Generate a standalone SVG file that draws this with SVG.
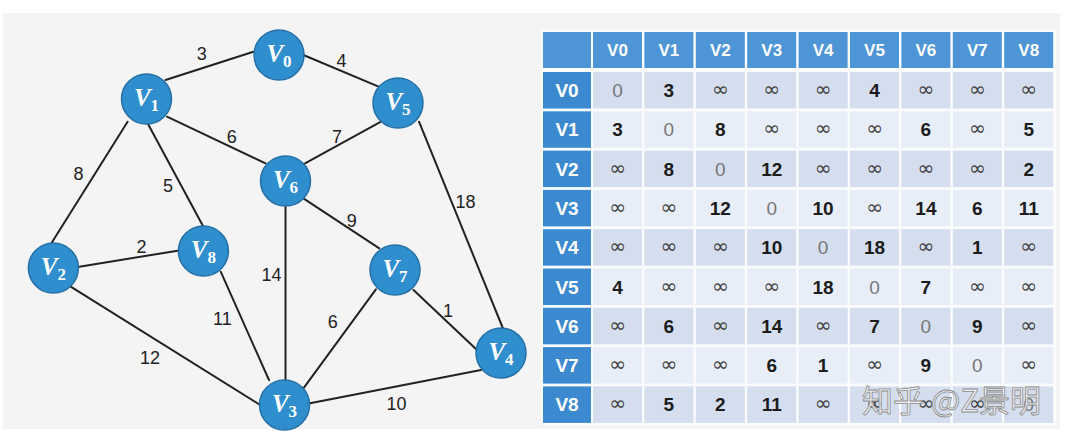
<svg xmlns="http://www.w3.org/2000/svg" width="1065" height="442" viewBox="0 0 1065 442">
<style>
.edge{stroke:#222;stroke-width:2;fill:none;stroke-linecap:round}
.el{font-family:"Liberation Sans",Arial,sans-serif;font-size:18px;fill:#222;text-anchor:middle}
.node circle{fill:#2f8ecd;stroke:#2570a6;stroke-width:1.5}
.nl{font-family:"Liberation Serif","Times New Roman",serif;font-style:italic;font-weight:bold;font-size:25px;fill:#fff;text-anchor:middle}
.nl tspan.s{font-size:17px;font-style:normal}
.hd{fill:#4e95d6}
.rh{fill:#3b89cf}
.b1{fill:#d4deee}
.b2{fill:#e8eef7}
.ht{font-family:"Liberation Sans",Arial,sans-serif;font-weight:bold;font-size:17px;fill:#fff;text-anchor:middle}
.rt{font-family:"Liberation Sans",Arial,sans-serif;font-weight:bold;font-size:19px;fill:#fff;text-anchor:middle}
.v{font-family:"Liberation Sans",Arial,sans-serif;font-weight:bold;font-size:19px;fill:#1c1c1c;text-anchor:middle}
.z{font-family:"Liberation Sans",Arial,sans-serif;font-size:19px;fill:#777;text-anchor:middle}
.i{font-family:"DejaVu Sans",sans-serif;font-size:20px;fill:#444;text-anchor:middle}
.wm{font-family:"Noto Sans CJK SC","Liberation Sans",sans-serif;font-size:31px;fill:#f2f2f2;fill-opacity:0.8;stroke:#8c8c8c;stroke-width:0.8}
</style>
<rect x="0" y="0" width="1065" height="442" fill="#fff"/>
<rect x="3" y="13" width="1057" height="416" fill="#f4f4f4"/>

<g id="connectors">
<line class="edge" x1="165.5" y1="80" x2="253.4" y2="51.7"/>
<line class="edge" x1="303.4" y1="55" x2="382.8" y2="88.3"/>
<line class="edge" x1="167" y1="116.7" x2="265.5" y2="163.3"/>
<line class="edge" x1="381" y1="121.7" x2="305" y2="163.3"/>
<line class="edge" x1="127.6" y1="121.7" x2="51.7" y2="242.7"/>
<line class="edge" x1="148" y1="124" x2="203.4" y2="226.7"/>
<line class="edge" x1="419" y1="121.7" x2="503" y2="328.5"/>
<line class="edge" x1="303.4" y1="198.3" x2="379.3" y2="248.3"/>
<line class="edge" x1="285.5" y1="206.7" x2="285.5" y2="380"/>
<line class="edge" x1="79.3" y1="266.7" x2="177.6" y2="250.7"/>
<line class="edge" x1="220.7" y1="271.7" x2="269" y2="380"/>
<line class="edge" x1="70.7" y1="286.7" x2="260.3" y2="405"/>
<line class="edge" x1="375.9" y1="289.3" x2="303.4" y2="388.3"/>
<line class="edge" x1="413.5" y1="290" x2="477" y2="350"/>
<line class="edge" x1="310" y1="403.3" x2="481" y2="370"/>
<text class="el" x="201.7" y="60">3</text>
<text class="el" x="341.4" y="66.5">4</text>
<text class="el" x="231.7" y="143">6</text>
<text class="el" x="337" y="143">7</text>
<text class="el" x="78.6" y="180">8</text>
<text class="el" x="168" y="191.5">5</text>
<text class="el" x="465.5" y="208">18</text>
<text class="el" x="351.7" y="226.5">9</text>
<text class="el" x="141.4" y="253">2</text>
<text class="el" x="271.4" y="280.5">14</text>
<text class="el" x="222.4" y="324.5">11</text>
<text class="el" x="332.8" y="328">6</text>
<text class="el" x="448" y="317">1</text>
<text class="el" x="150" y="363.5">12</text>
<text class="el" x="396.6" y="409.5">10</text>
</g>

<g id="v0" class="node"><circle cx="279" cy="55" r="25"/><text class="nl" x="279" y="62">V<tspan class="s" dy="5">0</tspan></text></g>
<g id="v1" class="node"><circle cx="146.5" cy="99" r="25"/><text class="nl" x="146.5" y="106">V<tspan class="s" dy="5">1</tspan></text></g>
<g id="v2" class="node"><circle cx="53.4" cy="268" r="25"/><text class="nl" x="53.4" y="275">V<tspan class="s" dy="5">2</tspan></text></g>
<g id="v3" class="node"><circle cx="284.5" cy="405" r="25"/><text class="nl" x="284.5" y="412">V<tspan class="s" dy="5">3</tspan></text></g>
<g id="v4" class="node"><circle cx="501" cy="353" r="25"/><text class="nl" x="501" y="360">V<tspan class="s" dy="5">4</tspan></text></g>
<g id="v5" class="node"><circle cx="398" cy="103" r="25"/><text class="nl" x="398" y="110">V<tspan class="s" dy="5">5</tspan></text></g>
<g id="v6" class="node"><circle cx="285.5" cy="181" r="25"/><text class="nl" x="285.5" y="188">V<tspan class="s" dy="5">6</tspan></text></g>
<g id="v7" class="node"><circle cx="395" cy="270" r="25"/><text class="nl" x="395" y="277">V<tspan class="s" dy="5">7</tspan></text></g>
<g id="v8" class="node"><circle cx="203.4" cy="251" r="25"/><text class="nl" x="203.4" y="258">V<tspan class="s" dy="5">8</tspan></text></g>

<g id="table">
<rect x="541" y="30" width="515" height="395" fill="#fafbfd"/>
<rect class="hd" x="543" y="32" width="48" height="36"/>
<rect class="hd" x="593" y="32" width="49" height="36"/>
<rect class="hd" x="644.4" y="32" width="49" height="36"/>
<rect class="hd" x="695.8" y="32" width="49" height="36"/>
<rect class="hd" x="747.2" y="32" width="49" height="36"/>
<rect class="hd" x="798.6" y="32" width="49" height="36"/>
<rect class="hd" x="850" y="32" width="49" height="36"/>
<rect class="hd" x="901.4" y="32" width="49" height="36"/>
<rect class="hd" x="952.8" y="32" width="49" height="36"/>
<rect class="hd" x="1004.2" y="32" width="49" height="36"/>
<text class="ht" x="617.5" y="56">V0</text>
<text class="ht" x="668.9" y="56">V1</text>
<text class="ht" x="720.3" y="56">V2</text>
<text class="ht" x="771.7" y="56">V3</text>
<text class="ht" x="823.1" y="56">V4</text>
<text class="ht" x="874.5" y="56">V5</text>
<text class="ht" x="925.9" y="56">V6</text>
<text class="ht" x="977.3" y="56">V7</text>
<text class="ht" x="1028.7" y="56">V8</text>
<rect class="rh" x="543" y="72" width="48" height="36.5"/>
<rect class="rh" x="543" y="111.3" width="48" height="36.5"/>
<rect class="rh" x="543" y="150.6" width="48" height="36.5"/>
<rect class="rh" x="543" y="189.9" width="48" height="36.5"/>
<rect class="rh" x="543" y="229.2" width="48" height="36.5"/>
<rect class="rh" x="543" y="268.5" width="48" height="36.5"/>
<rect class="rh" x="543" y="307.8" width="48" height="36.5"/>
<rect class="rh" x="543" y="347.1" width="48" height="36.5"/>
<rect class="rh" x="543" y="386.4" width="48" height="36.5"/>
<rect class="b1" x="593" y="72" width="460.2" height="36.5"/>
<rect class="b2" x="593" y="111.3" width="460.2" height="36.5"/>
<rect class="b1" x="593" y="150.6" width="460.2" height="36.5"/>
<rect class="b2" x="593" y="189.9" width="460.2" height="36.5"/>
<rect class="b1" x="593" y="229.2" width="460.2" height="36.5"/>
<rect class="b2" x="593" y="268.5" width="460.2" height="36.5"/>
<rect class="b1" x="593" y="307.8" width="460.2" height="36.5"/>
<rect class="b2" x="593" y="347.1" width="460.2" height="36.5"/>
<rect class="b1" x="593" y="386.4" width="460.2" height="36.5"/>
<g stroke="#fafbfd" stroke-width="2.4">
<line x1="643.2" y1="70" x2="643.2" y2="424"/>
<line x1="694.6" y1="70" x2="694.6" y2="424"/>
<line x1="746" y1="70" x2="746" y2="424"/>
<line x1="797.4" y1="70" x2="797.4" y2="424"/>
<line x1="848.8" y1="70" x2="848.8" y2="424"/>
<line x1="900.2" y1="70" x2="900.2" y2="424"/>
<line x1="951.6" y1="70" x2="951.6" y2="424"/>
<line x1="1003" y1="70" x2="1003" y2="424"/>
</g>
<text class="rt" x="567" y="97">V0</text>
<text class="rt" x="567" y="136.3">V1</text>
<text class="rt" x="567" y="175.6">V2</text>
<text class="rt" x="567" y="214.9">V3</text>
<text class="rt" x="567" y="254.2">V4</text>
<text class="rt" x="567" y="293.5">V5</text>
<text class="rt" x="567" y="332.8">V6</text>
<text class="rt" x="567" y="372.1">V7</text>
<text class="rt" x="567" y="411.4">V8</text>
<text class="z" x="617.5" y="97">0</text><text class="v" x="668.9" y="97">3</text><text class="i" x="720.3" y="96">∞</text><text class="i" x="771.7" y="96">∞</text><text class="i" x="823.1" y="96">∞</text><text class="v" x="874.5" y="97">4</text><text class="i" x="925.9" y="96">∞</text><text class="i" x="977.3" y="96">∞</text><text class="i" x="1028.7" y="96">∞</text>
<text class="v" x="617.5" y="136.3">3</text><text class="z" x="668.9" y="136.3">0</text><text class="v" x="720.3" y="136.3">8</text><text class="i" x="771.7" y="135.3">∞</text><text class="i" x="823.1" y="135.3">∞</text><text class="i" x="874.5" y="135.3">∞</text><text class="v" x="925.9" y="136.3">6</text><text class="i" x="977.3" y="135.3">∞</text><text class="v" x="1028.7" y="136.3">5</text>
<text class="i" x="617.5" y="174.6">∞</text><text class="v" x="668.9" y="175.6">8</text><text class="z" x="720.3" y="175.6">0</text><text class="v" x="771.7" y="175.6">12</text><text class="i" x="823.1" y="174.6">∞</text><text class="i" x="874.5" y="174.6">∞</text><text class="i" x="925.9" y="174.6">∞</text><text class="i" x="977.3" y="174.6">∞</text><text class="v" x="1028.7" y="175.6">2</text>
<text class="i" x="617.5" y="213.9">∞</text><text class="i" x="668.9" y="213.9">∞</text><text class="v" x="720.3" y="214.9">12</text><text class="z" x="771.7" y="214.9">0</text><text class="v" x="823.1" y="214.9">10</text><text class="i" x="874.5" y="213.9">∞</text><text class="v" x="925.9" y="214.9">14</text><text class="v" x="977.3" y="214.9">6</text><text class="v" x="1028.7" y="214.9">11</text>
<text class="i" x="617.5" y="253.2">∞</text><text class="i" x="668.9" y="253.2">∞</text><text class="i" x="720.3" y="253.2">∞</text><text class="v" x="771.7" y="254.2">10</text><text class="z" x="823.1" y="254.2">0</text><text class="v" x="874.5" y="254.2">18</text><text class="i" x="925.9" y="253.2">∞</text><text class="v" x="977.3" y="254.2">1</text><text class="i" x="1028.7" y="253.2">∞</text>
<text class="v" x="617.5" y="293.5">4</text><text class="i" x="668.9" y="292.5">∞</text><text class="i" x="720.3" y="292.5">∞</text><text class="i" x="771.7" y="292.5">∞</text><text class="v" x="823.1" y="293.5">18</text><text class="z" x="874.5" y="293.5">0</text><text class="v" x="925.9" y="293.5">7</text><text class="i" x="977.3" y="292.5">∞</text><text class="i" x="1028.7" y="292.5">∞</text>
<text class="i" x="617.5" y="331.8">∞</text><text class="v" x="668.9" y="332.8">6</text><text class="i" x="720.3" y="331.8">∞</text><text class="v" x="771.7" y="332.8">14</text><text class="i" x="823.1" y="331.8">∞</text><text class="v" x="874.5" y="332.8">7</text><text class="z" x="925.9" y="332.8">0</text><text class="v" x="977.3" y="332.8">9</text><text class="i" x="1028.7" y="331.8">∞</text>
<text class="i" x="617.5" y="371.1">∞</text><text class="i" x="668.9" y="371.1">∞</text><text class="i" x="720.3" y="371.1">∞</text><text class="v" x="771.7" y="372.1">6</text><text class="v" x="823.1" y="372.1">1</text><text class="i" x="874.5" y="371.1">∞</text><text class="v" x="925.9" y="372.1">9</text><text class="z" x="977.3" y="372.1">0</text><text class="i" x="1028.7" y="371.1">∞</text>
<text class="i" x="617.5" y="410.4">∞</text><text class="v" x="668.9" y="411.4">5</text><text class="v" x="720.3" y="411.4">2</text><text class="v" x="771.7" y="411.4">11</text><text class="i" x="823.1" y="410.4">∞</text><text class="i" x="874.5" y="410.4">∞</text><text class="i" x="925.9" y="410.4">∞</text><text class="i" x="977.3" y="410.4">∞</text><text class="z" x="1028.7" y="411.4">0</text>
</g>
<text class="wm" x="862" y="412">知乎 @Z景明</text>
</svg>
